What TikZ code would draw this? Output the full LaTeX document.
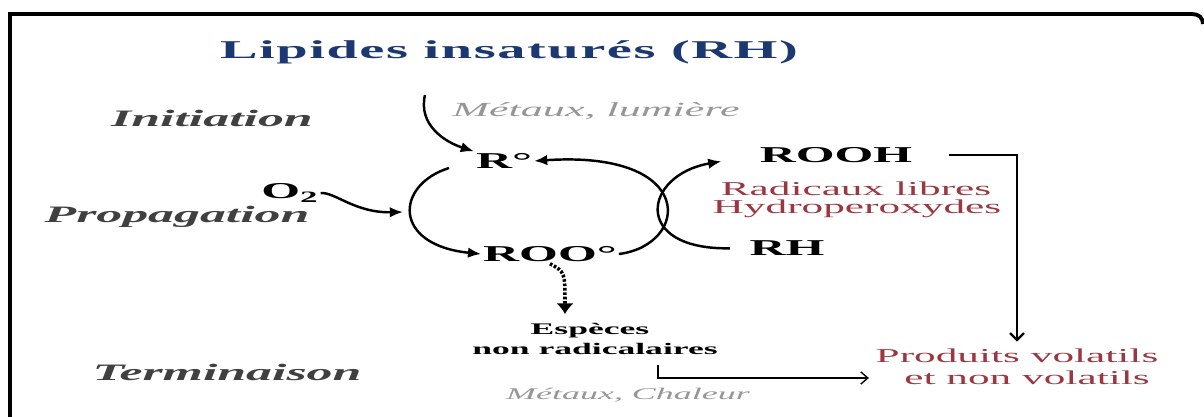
\documentclass[tikz,border=0pt]{standalone}
\usepackage{fontspec}
\setmainfont{Liberation Serif}[FakeStretch=2.2]
\newfontfamily\TitleFont{Liberation Serif}[FakeStretch=2.2,LetterSpace=6]
\usepackage{xcolor}
\definecolor{ColTitle}{RGB}{28,56,112}
\definecolor{ColPhase}{RGB}{64,64,64}
\definecolor{ColCond}{RGB}{150,150,150}
\definecolor{ColRed}{RGB}{155,55,65}
\usepackage{tikz}
\usetikzlibrary{arrows.meta}
\tikzstyle{Title}=[font=\TitleFont\bfseries\fontsize{14.6}{16}\selectfont,
text=ColTitle,inner sep=1pt]
\tikzstyle{Phase}=[font=\bfseries\itshape\fontsize{13.4}{15}\selectfont,
text=ColPhase,inner sep=1pt]
\tikzstyle{Species}=[font=\bfseries\fontsize{12.9}{14}\selectfont,inner sep=1pt]
\tikzstyle{SpeciesST}=[font=\bfseries\fontsize{9.2}{11}\selectfont,inner sep=1pt]
\tikzstyle{Cond}=[font=\itshape\fontsize{11.4}{13}\selectfont,text=ColCond,
inner sep=1pt]
\tikzstyle{CondST}=[font=\itshape\fontsize{9.3}{11}\selectfont,text=ColCond,
inner sep=1pt]
\tikzstyle{Product}=[font=\fontsize{11.2}{13}\selectfont,text=ColRed,
inner sep=1pt]
\tikzstyle{Arc}=[draw,line width=1.4pt,-{Latex[length=7.5pt,width=6pt]}]
\tikzstyle{Line}=[draw,line width=1.3pt,-{Straight Barb[length=4pt,width=8pt]}]
\tikzstyle{Thin}=[draw,line width=0.8pt,-{Straight Barb[length=4pt,width=7pt]}]
\tikzstyle{Dots}=[draw,line width=2pt,dash pattern=on 1.5pt off 1pt,
-{Latex[length=6pt,width=10pt]}]
\tikzstyle{Frame}=[draw,line width=2.2pt]

\begin{document}
\begin{tikzpicture}[x=.02cm,y=-.02cm]
        \useasboundingbox(0,0)rectangle(1204,416);
        \draw[Frame](10,418)--(10,14)--(1192,14)
            ..controls(1199,14)and(1203,18)..(1203,24);
        \node[Title](title)at(509,52){Lipides insaturés (RH)};
        \node[Phase](init)at(212,118){Initiation};
        \node[Phase](prop)at(177,217){Propagation};
        \node[Phase](term)at(227,372){Terminaison};
        \node[Cond](cond1)at(596,111){Métaux, lumière};
        \node[CondST](cond2)at(628,395){Métaux, Chaleur};
        \node[Species](R)at(504,161){R°};
        \node[Species](ROO)at(550,254){ROO°};
        \node[Species](O2)at(290,193){O\textsubscript{2}};
        \node[Species](ROOH)at(836,155){ROOH};
        \node[Species](RH)at(787,248){RH};
        \node[Product](rad)at(856,189){Radicaux libres};
        \node[Product](hyd)at(857,209){Hydroperoxydes};
        \node[SpeciesST](esp)at(590,331){Espèces};
        \node[SpeciesST](nonrad)at(595,349){non radicalaires};
        \node[Product](prod1)at(1017,356){Produits volatils};
        \node[Product](prod2)at(1027,378){et non volatils};
        \coordinate(i0)at(425,95);
        \coordinate(l0)at(449,168);
        \coordinate(l1)at(403,212);
        \coordinate(d1)at(565,314);
        \coordinate(c0)at(658,365);
        \draw[Arc](i0)..controls(418,125)and(445,142)..(R.north west);
        \draw[Arc](l0)..controls(395,185)and(392,245)..(ROO.west);
        \draw[Arc](O2.east)..controls(335,192)and(355,213)..(l1);
        \draw[Arc](ROO.east)..controls(690,245)and(698,150)..(R.east);
        \draw[Arc,shorten <=10pt,shorten >=21pt](RH.west)
            ..controls(631,250)and(643,175)..(ROOH.west);
        \draw[Line,shorten <=20pt,shorten >=3pt](ROOH.east)-|(prod1.north);
        \draw[Dots](ROO.south)..controls(565,272)..(d1);
        \draw[Thin,shorten >=19pt](c0)|-(prod2.west);
    \end{tikzpicture}
\end{document}
